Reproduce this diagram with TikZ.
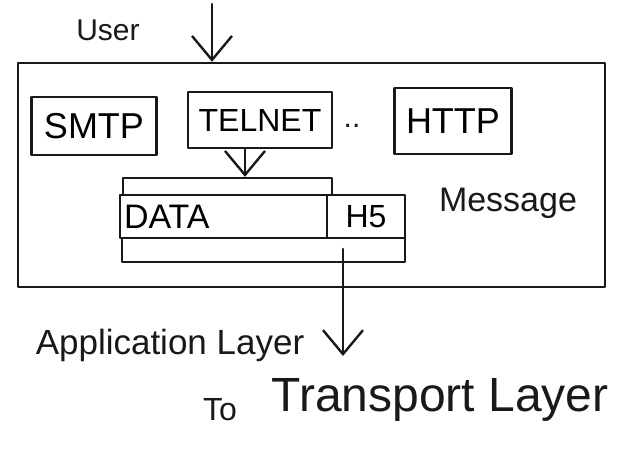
\documentclass[tikz,border=0pt]{standalone}
\usepackage{fontspec}
\setmainfont{Liberation Sans}
\usetikzlibrary{arrows.meta}
\begin{document}
\begin{tikzpicture}[x=1pt,y=-1pt,
  ink/.style={line width=2.4pt, draw=black!90, line cap=round, line join=round},
  box/.style={ink, rectangle, inner sep=0pt, fill=white},
  arr/.style={ink, -{Straight Barb[length=24pt,width=40pt,line width=2.4pt]}},
  lbl/.style={inner sep=0pt, text=black!90}]
\useasboundingbox (0,0) rectangle (622,461);
% outer box
\node[box, minimum width=587pt, minimum height=224pt] (outer) at (311.5,175) {};
\node[lbl, font=\fontsize{30}{34}\selectfont] (user) at (108,30) {User};
\coordinate (utop) at (212,4);
\draw[arr] (utop) -- (utop |- outer.north);
% protocol boxes
\node[box, minimum width=125pt, minimum height=58pt, font=\fontsize{36}{40}\selectfont] (smtp) at (94,126) {SMTP};
\node[box, minimum width=144pt, minimum height=56pt, font=\fontsize{32}{36}\selectfont] (telnet) at (260,120) {TELNET};
\node[lbl, font=\fontsize{30}{34}\selectfont] (dots) at (352,126) {..};
\node[box, minimum width=117pt, minimum height=66pt, font=\fontsize{36}{40}\selectfont] (http) at (453,121) {HTTP};
% message stack
\node[box, minimum width=209pt, minimum height=32pt] (back) at (227.5,194) {};
\node[box, minimum width=283pt, minimum height=30pt] (under) at (263.5,247) {};
\node[box, minimum width=207pt, minimum height=43pt, text width=199pt, align=left, font=\fontsize{34}{36}\selectfont] (data) at (223.5,216.5) {DATA};
\node[box, minimum width=78pt, minimum height=43pt, font=\fontsize{32}{34}\selectfont] (hs) at (366,216.5) {H5};
\node[lbl, font=\fontsize{34}{38}\selectfont] (msg) at (508,203) {Message};
\draw[arr] ([xshift=-15pt]telnet.south) -- ([xshift=-15pt]telnet.south |- back.north);
% down arrow
\coordinate (mout) at (343,249);
\coordinate (mend) at (343,356);
\draw[arr] (mout) -- (mend);
% bottom labels
\node[lbl, font=\fontsize{35}{38}\selectfont] (app) at (170,345) {Application Layer};
\node[lbl, font=\fontsize{32}{36}\selectfont] (to) at (220,410) {To};
\node[lbl, font=\fontsize{48}{52}\selectfont] (tl) at (440,400) {Transport Layer};
\end{tikzpicture}
\end{document}
